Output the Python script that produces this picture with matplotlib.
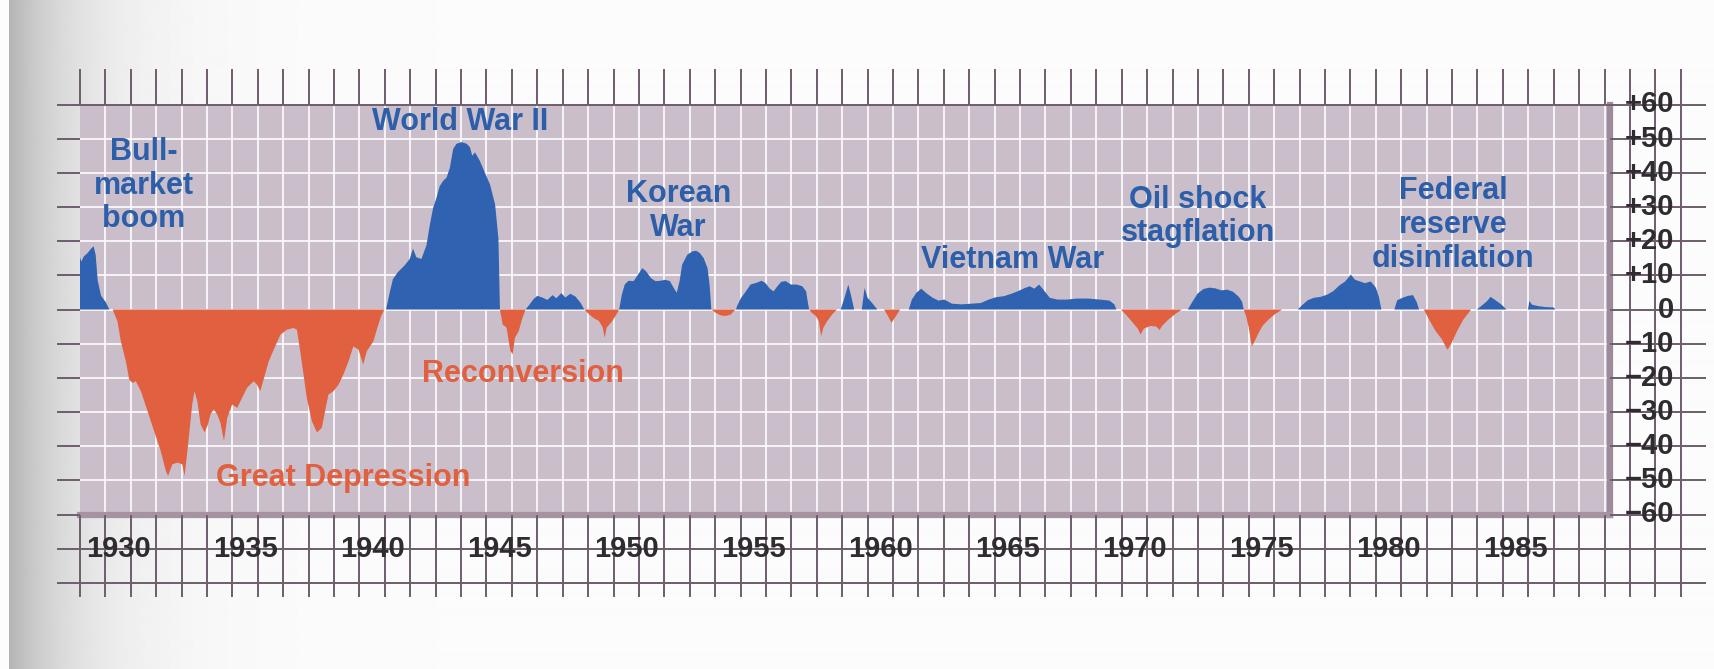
import numpy as np
import matplotlib
matplotlib.use("Agg")
import matplotlib.pyplot as plt

# ---------------- data ----------------
years = np.array([
    1929.00, 1929.06, 1929.15, 1929.30, 1929.44, 1929.54, 1929.62, 1929.70, 1929.83, 1930.02,
    1930.16, 1930.29, 1930.48, 1930.61, 1930.81, 1930.94, 1931.07, 1931.20, 1931.40, 1931.66,
    1931.92, 1932.18, 1932.38, 1932.47, 1932.64, 1932.84, 1933.03, 1933.12, 1933.23, 1933.42,
    1933.51, 1933.62, 1933.75, 1933.91, 1934.04, 1934.14, 1934.27, 1934.40, 1934.53, 1934.67,
    1934.80, 1934.99, 1935.19, 1935.38, 1935.58, 1935.84, 1935.97, 1936.10, 1936.21, 1936.43,
    1936.63, 1936.89, 1937.15, 1937.41, 1937.54, 1937.67, 1937.80, 1937.93, 1938.13, 1938.33,
    1938.52, 1938.65, 1938.78, 1938.98, 1939.18, 1939.37, 1939.57, 1939.76, 1939.96, 1940.15,
    1940.29, 1940.55, 1940.70, 1940.85, 1940.98, 1941.05, 1941.19, 1941.32, 1941.51, 1941.78,
    1941.98, 1942.11, 1942.24, 1942.44, 1942.64, 1942.77, 1942.90, 1943.03, 1943.16, 1943.29,
    1943.43, 1943.56, 1943.69, 1943.82, 1944.02, 1944.22, 1944.35, 1944.44, 1944.55, 1944.74,
    1944.94, 1945.14, 1945.34, 1945.47, 1945.53, 1945.64, 1945.79, 1945.94, 1946.03, 1946.12,
    1946.27, 1946.42, 1946.54,
    1946.70, 1946.85, 1947.00, 1947.20, 1947.40, 1947.60, 1947.75, 1947.95, 1948.10, 1948.30,
    1948.50, 1948.70, 1948.85, 1949.05, 1949.20, 1949.43, 1949.58, 1949.65, 1949.73, 1949.95,
    1950.11, 1950.22, 1950.33, 1950.44, 1950.59, 1950.79, 1951.01, 1951.13, 1951.28, 1951.47,
    1951.65, 1951.84, 1952.04, 1952.22, 1952.37, 1952.49, 1952.60, 1952.70, 1952.90, 1953.10,
    1953.25, 1953.40, 1953.55, 1953.70, 1953.78, 1953.85, 1954.03, 1954.21, 1954.41, 1954.61,
    1954.76, 1954.82, 1954.86, 1955.02, 1955.21, 1955.39, 1955.62, 1955.82, 1955.97, 1956.15,
    1956.30, 1956.45, 1956.60, 1956.78, 1956.98, 1957.21, 1957.43, 1957.58, 1957.66, 1957.70,
    1957.81, 1957.96, 1958.08, 1958.17, 1958.26, 1958.41, 1958.60, 1958.79, 1958.94, 1959.09,
    1959.24, 1959.37, 1959.47, 1959.77, 1959.88, 1960.00, 1960.20, 1960.38, 1960.65, 1960.80,
    1960.94, 1961.09, 1961.28, 1961.62, 1961.74, 1961.92, 1962.11, 1962.34, 1962.57, 1962.79,
    1963.02, 1963.32, 1963.70, 1964.08, 1964.46, 1964.76, 1965.06, 1965.36, 1965.66, 1965.96,
    1966.19, 1966.38, 1966.56, 1966.75, 1966.95, 1967.17, 1967.48, 1967.85, 1968.23, 1968.68,
    1969.14, 1969.52, 1969.71, 1969.79, 1969.97, 1970.20, 1970.43, 1970.63, 1970.74, 1970.87,
    1971.13, 1971.36, 1971.49, 1971.59, 1971.83, 1972.11, 1972.37, 1972.60, 1972.76, 1972.99,
    1973.22, 1973.45, 1973.68, 1973.92, 1974.15, 1974.38, 1974.61, 1974.74, 1974.80, 1974.89,
    1975.00, 1975.12, 1975.23, 1975.39, 1975.54, 1975.77, 1976.04, 1976.32, 1976.93, 1977.09,
    1977.32, 1977.55, 1977.83, 1978.10, 1978.33, 1978.56, 1978.79, 1979.02, 1979.18, 1979.38,
    1979.57, 1979.80, 1980.00, 1980.12, 1980.22, 1980.73, 1980.84, 1981.04, 1981.27, 1981.46,
    1981.61, 1981.70, 1981.89, 1982.12, 1982.35, 1982.59, 1982.82, 1982.97, 1983.20, 1983.44,
    1983.75, 1983.98, 1984.18, 1984.37, 1984.52, 1984.71, 1984.95, 1985.14, 1985.99, 1986.04,
    1986.15, 1986.38, 1986.69, 1987.00, 1987.06,
])

gap_pct = np.array([
    15.3, 14.0, 15.5, 16.5, 17.8, 18.5, 16.0, 8.5, 4.1, 2.1,
    0.0, 0.0, -3.5, -9.3, -15.2, -20.5, -21.5, -21.0, -23.9, -29.7,
    -35.6, -41.4, -47.2, -48.7, -45.3, -44.8, -45.3, -48.7, -41.4, -27.8,
    -23.9, -26.8, -33.6, -36.0, -33.6, -30.7, -29.2, -30.7, -33.1, -38.5,
    -31.7, -27.8, -28.8, -25.9, -22.9, -21.0, -22.0, -23.9, -21.0, -15.2,
    -11.7, -7.4, -5.9, -5.4, -5.9, -12.2, -19.0, -25.9, -32.7, -36.0,
    -34.6, -29.7, -24.9, -23.9, -22.0, -19.0, -15.2, -10.8, -11.7, -16.1,
    -12.2, -9.3, -5.5, -2.0, 0.0, 0.0, 4.9, 8.9, 10.9, 12.9,
    14.8, 17.8, 15.3, 14.8, 18.8, 24.7, 29.7, 32.6, 36.1, 37.6,
    38.6, 41.5, 47.0, 48.5, 49.0, 48.5, 47.5, 45.0, 46.0, 43.5,
    40.0, 36.6, 30.7, 20.8, 0.0, -4.4, -5.3, -12.1, -13.1, -8.3,
    -6.3, -2.4, 0.0,
    1.5, 3.0, 4.0, 3.5, 2.8, 4.2, 3.3, 4.8, 3.5, 4.6,
    3.8, 2.0, 0.0, -1.5, -2.4, -3.4, -5.3, -8.3, -5.3, -3.4,
    -1.5, 0.0, 4.4, 7.3, 8.4, 8.3, 10.7, 12.1, 11.2, 9.2,
    8.3, 8.4, 8.7, 8.3, 6.3, 4.9, 8.3, 13.1, 16.0, 17.0,
    17.2, 16.5, 15.0, 12.1, 7.3, 0.0, -1.0, -1.7, -1.9, -1.5,
    -0.3, 0.0, 1.0, 3.4, 5.3, 7.3, 7.8, 8.4, 7.8, 6.1,
    5.3, 6.8, 8.1, 8.3, 7.3, 7.3, 6.8, 5.3, 1.5, 0.0,
    -1.0, -1.9, -3.4, -7.8, -5.3, -3.4, -1.5, 0.0, 0.0, 3.4,
    7.3, 3.4, 0.0, 0.0, 6.3, 3.4, 1.7, 0.0, 0.0, -1.9,
    -3.9, -2.2, 0.0, 0.0, 2.9, 4.9, 6.1, 4.6, 3.4, 2.6,
    2.9, 1.7, 1.5, 1.7, 1.9, 2.9, 3.6, 3.9, 4.6, 5.5,
    6.3, 6.8, 6.1, 7.3, 5.5, 3.4, 2.9, 2.9, 3.2, 3.2,
    2.9, 2.6, 1.5, 0.0, 0.0, -1.8, -3.8, -5.6, -7.3, -5.6,
    -4.8, -5.0, -6.0, -4.8, -3.0, -1.3, 0.0, 0.0, 2.0, 4.7,
    6.0, 6.4, 6.2, 5.6, 5.8, 5.2, 3.7, 2.2, 0.0, -1.8,
    -5.3, -10.8, -9.3, -6.8, -4.8, -3.0, -1.3, 0.0, 0.0, 1.2,
    2.7, 3.4, 3.7, 4.4, 5.4, 7.0, 8.2, 10.2, 8.7, 8.2,
    7.7, 8.2, 6.4, 3.7, 0.0, 0.0, 2.7, 3.4, 4.0, 4.2,
    2.2, 0.0, 0.0, -3.3, -6.3, -8.6, -11.8, -10.0, -6.3, -3.0,
    0.0, 0.0, 1.2, 2.4, 3.7, 2.7, 1.4, 0.0, 0.0, 2.5,
    1.4, 1.0, 0.7, 0.6, 0.0,
])

year_labels = [1930, 1935, 1940, 1945, 1950, 1955, 1960, 1965, 1970, 1975, 1980, 1985]
value_ticks = [60, 50, 40, 30, 20, 10, 0, -10, -20, -30, -40, -50, -60]
value_tick_labels = ["+60", "+50", "+40", "+30", "+20", "+10", "0",
                     "\u221210", "\u221220", "\u221230", "\u221240", "\u221250", "\u221260"]

ann_texts = ["Bull-\nmarket\nboom", "World War II", "Korean\nWar", "Vietnam War",
             "Oil shock\nstagflation", "Federal\nreserve\ndisinflation",
             "Reconversion", "Great Depression"]
ann_x = [1931.5, 1943.95, 1952.55, 1965.7, 1973.0, 1983.05, 1946.45, 1939.35]
ann_y = [36.2, 54.8, 28.8, 14.5, 27.2, 24.7, -18.8, -49.2]
ann_kind = ["up", "up", "up", "up", "up", "up", "down", "down"]

# ---------------- style ----------------
BLUE = "#2f62b0"
RED = "#e1603f"
PANEL = "#c9bec9"
DARK = "#6e5d6d"
TEXT_DARK = "#2f2c30"
W_PX, H_PX = 1714, 669

fig = plt.figure(figsize=(W_PX / 100, H_PX / 100), dpi=100)
fig.patch.set_facecolor("white")

# scanned-paper shading on the left edge
bg = fig.add_axes([0, 0, 1, 1], zorder=-10)
xs = np.arange(W_PX)
shade = np.where(xs < 9, 0.99, 0.985 - 0.28 * np.exp(-(xs - 9) / 70.0))
bg.imshow(shade[None, :], aspect="auto", cmap="gray", vmin=0, vmax=1,
          extent=[0, 1, 0, 1], interpolation="bilinear")
bg.set_xlim(0, 1)
bg.set_ylim(0, 1)
bg.axis("off")

# main panel: x 1929..1989.2, y -60..60
left_px, right_px = 79.9, 1609.6
top_px, bot_px = 104.5, 514.5
ax = fig.add_axes([left_px / W_PX, (H_PX - bot_px) / H_PX,
                   (right_px - left_px) / W_PX, (bot_px - top_px) / H_PX])
x0, x1 = 1929.0, 1989.2
ax.set_xlim(x0, x1)
ax.set_ylim(-60, 60)
ax.set_facecolor(PANEL)

# white grid inside the panel
ax.set_xticks(np.arange(1930, 1990))
ax.set_yticks(np.arange(-50, 51, 10))
ax.tick_params(length=0, labelbottom=False, labelleft=False)
ax.set_axisbelow(True)
ax.grid(True, color="white", lw=1.3, alpha=0.9)

# spines
ax.spines["top"].set_color(DARK)
ax.spines["top"].set_linewidth(1.4)
ax.spines["left"].set_visible(False)
ax.spines["bottom"].set_color("#a593a2")
ax.spines["bottom"].set_linewidth(4.5)
ax.spines["right"].set_color("#9d8b9b")
ax.spines["right"].set_linewidth(4.5)

# area chart
ax.fill_between(years, gap_pct, 0, where=gap_pct >= 0, interpolate=True,
                color=BLUE, lw=0, zorder=2)
ax.fill_between(years, gap_pct, 0, where=gap_pct <= 0, interpolate=True,
                color=RED, lw=0, zorder=2)

# graph-paper lines outside the panel
lkw = dict(color=DARK, lw=1.4, clip_on=False, zorder=3)
top_y, bot_y = 70.5, -84.0
left_x, right_x = 1928.1, 1993.0
ax.vlines(np.arange(1929, 1990), 60, top_y, **lkw)
ax.vlines(np.arange(1929, 1990), bot_y, -60, **lkw)
ax.vlines(np.arange(1990, 1993), bot_y, top_y, **lkw)
ax.hlines(np.arange(-80, 61, 10), left_x, x0, **lkw)
ax.hlines(np.arange(-80, 61, 10), x1, right_x, **lkw)
ax.hlines([-70, -80], x0, x1, **lkw)

# axis numbers
num_kw = dict(fontsize=21, fontweight="bold", color=TEXT_DARK,
              family=["Liberation Sans", "DejaVu Sans"], clip_on=False, zorder=4)
for yr in year_labels:
    ax.text(yr + 0.5, -70.0, str(yr), ha="center", va="center", **num_kw)
for v, lab in zip(value_ticks, value_tick_labels):
    ax.text(1991.75, v, lab, ha="right", va="center", **num_kw)

# annotations
for t, x, y, k in zip(ann_texts, ann_x, ann_y, ann_kind):
    ax.text(x, y, t, ha="center", va="center", multialignment="center",
            fontsize=22, fontweight="bold", linespacing=1.16,
            color="#2d5ea9" if k == "up" else "#e0603f",
            family=["Liberation Sans", "DejaVu Sans"], zorder=5)

fig.savefig("out.png", dpi=100, facecolor=fig.get_facecolor())
